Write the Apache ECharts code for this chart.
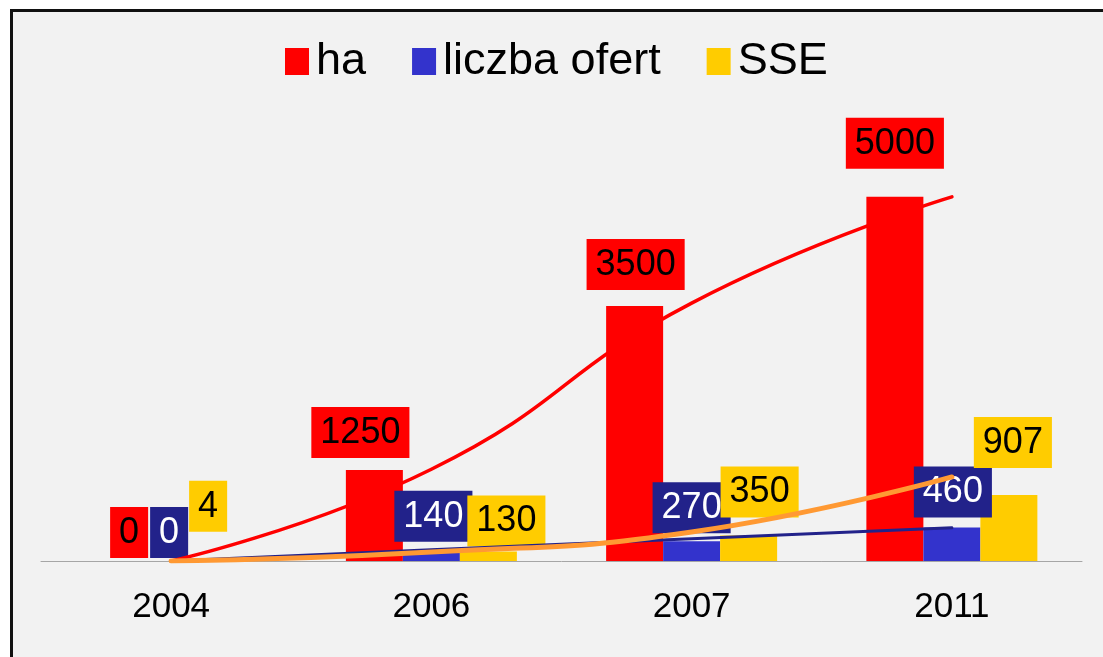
<!DOCTYPE html>
<html>
<head>
<meta charset="utf-8">
<script src="https://cdn.jsdelivr.net/npm/echarts@6/dist/echarts.min.js"></script>
<style>
    body { margin: 0; background: #fff; overflow: hidden; }
    #frame { position: absolute; left: 10px; top: 9px; width: 1200px; height: 800px;
             border: 3px solid #111; background: #f2f2f2; }
    #chart { position: absolute; left: 0; top: 0; width: 1103px; height: 657px; }
</style>
</head>
<body>
<div id="frame"></div>
<div id="chart"></div>
<script>
var years = ['2004', '2006', '2007', '2011'];
var haValues = [0, 1250, 3500, 5000];
var offerValues = [0, 140, 270, 460];
var sseValues = [4, 130, 350, 907];

// trend lines at each category
var haTrend = [0, 1260, 3540, 5000];
var offerTrend = [0, 154, 305, 457];
var sseTrend = [0, 124, 398, 1154];

// label nudges (x, y) so boxes sit where they were placed by hand
var haOffsets = [[15, -3], [-14, -12], [1, -16], [0, -28]];
var offerOffsets = [[-2, -3], [2, -9], [0, -8], [1, -10]];
var sseOffsets = [[-20, -29], [18, -5], [11, -18], [4, -27]];

var font = "'Liberation Sans', Arial, sans-serif";

var withOffsets = function (values, offsets) {
    return values.map(function (v, i) {
        return {value: v, label: {offset: offsets[i]}};
    });
};

var barLabel = function (bg, fg) {
    return {
        show: true,
        position: 'top',
        distance: 0,
        fontFamily: font,
        fontSize: 36,
        lineHeight: 36,
        color: fg,
        backgroundColor: bg,
        padding: [8, 9, 7, 9]
    };
};

var trendLine = function (name, data, color, width) {
    return {
        name: name,
        type: 'line',
        data: data,
        smooth: true,
        symbol: 'none',
        z: 5,
        silent: true,
        lineStyle: {color: color, width: width, cap: 'round'}
    };
};

var option = {
    animation: false,
    textStyle: {fontFamily: font},
    legend: {
        data: ['ha', 'liczba ofert', 'SSE'],
        left: 280,
        top: 34,
        itemWidth: 24,
        itemHeight: 27,
        itemGap: 46,
        icon: 'rect',
        textStyle: {fontSize: 45, color: '#000', fontFamily: font, padding: [0, 0, 0, 2]}
    },
    grid: {left: 41, right: 21, top: 124, bottom: 96},
    xAxis: {
        type: 'category',
        data: years,
        axisLine: {lineStyle: {color: '#a6a6a6', width: 1}},
        axisTick: {show: false},
        axisLabel: {fontSize: 35, color: '#000', margin: 29, fontFamily: font}
    },
    yAxis: {
        type: 'value',
        min: 0,
        max: 6000,
        show: false,
        splitLine: {show: false}
    },
    series: [
        {
            name: 'ha', type: 'bar', barWidth: 57, barGap: '0%',
            itemStyle: {color: '#ff0000'},
            label: barLabel('#ff0000', '#000'),
            data: withOffsets(haValues, haOffsets)
        },
        {
            name: 'liczba ofert', type: 'bar', barWidth: 57, barGap: '0%',
            itemStyle: {color: '#3333cc'},
            label: barLabel('#22228a', '#fff'),
            data: withOffsets(offerValues, offerOffsets)
        },
        {
            name: 'SSE', type: 'bar', barWidth: 57, barGap: '0%',
            itemStyle: {color: '#ffcc00'},
            label: barLabel('#ffcc00', '#000'),
            data: withOffsets(sseValues, sseOffsets)
        },
        trendLine('trend ha', haTrend, '#ff0000', 3.5),
        trendLine('trend liczba ofert', offerTrend, '#22228a', 3),
        trendLine('trend SSE', sseTrend, '#ff9933', 5)
    ]
};

var chart = echarts.init(document.getElementById('chart'));
chart.setOption(option);
</script>
</body>
</html>
